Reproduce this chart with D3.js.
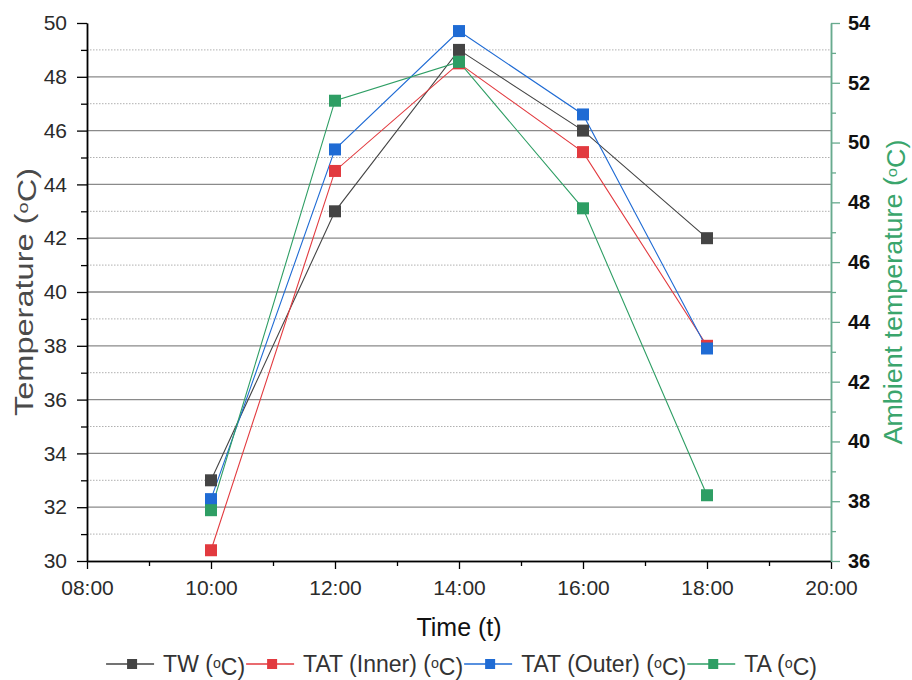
<!DOCTYPE html>
<html>
<head>
<meta charset="utf-8">
<script src="https://cdn.jsdelivr.net/npm/d3@7"></script>
<style>
  body { margin: 0; background: #fff; }
  text { font-family: "Liberation Sans", Arial, sans-serif; }
</style>
</head>
<body>
<div id="chart"></div>
<script>
// data
const times = ["10:00", "12:00", "14:00", "16:00", "18:00"];
const tw = [33.0, 43.0, 49.0, 46.0, 42.0];
const tatInner = [30.4, 44.5, 48.5, 45.2, 38.0];
const tatOuter = [32.3, 45.3, 49.7, 46.6, 37.9];
const ta = [37.7, 51.4, 52.7, 47.8, 38.2];   // right axis
const xTickLabels = ["08:00", "10:00", "12:00", "14:00", "16:00", "18:00", "20:00"];
const leftTicks = [30, 32, 34, 36, 38, 40, 42, 44, 46, 48, 50];
const rightTicks = [36, 38, 40, 42, 44, 46, 48, 50, 52, 54];

function main() {
    const margin = {top: 23, right: 81, bottom: 119, left: 87},
        width = 912 - margin.left - margin.right,
        height = 680 - margin.top - margin.bottom;

    const svg = d3.select("#chart")
        .append("svg")
        .attr("width", 912)
        .attr("height", 680)
        .style("background", "#fff");

    const g = svg.append("g")
        .attr("transform", `translate(${margin.left}, ${margin.top})`);

    const hour = t => +t.split(":")[0];

    const x = d3.scaleLinear().domain([8, 20]).range([0, width]);
    const yL = d3.scaleLinear().domain([30, 50]).range([height, 0]);
    const yR = d3.scaleLinear().domain([36, 54]).range([height, 0]);

    const minorLeft = d3.range(31, 50, 2);

    // grid lines
    g.append("g").selectAll("line.major")
        .data(leftTicks.filter(d => d > 30 && d < 50))
        .enter().append("line")
        .attr("x1", 0).attr("x2", width)
        .attr("y1", d => yL(d)).attr("y2", d => yL(d))
        .attr("stroke", "#8a8a8a").attr("stroke-width", 1.3);
    g.append("g").selectAll("line.minor")
        .data(minorLeft)
        .enter().append("line")
        .attr("x1", 0).attr("x2", width)
        .attr("y1", d => yL(d)).attr("y2", d => yL(d))
        .attr("stroke", "#b0b0b0").attr("stroke-width", 1)
        .attr("stroke-dasharray", "1.5,1.5");

    // axes
    const xAxis = g.append("g")
        .attr("transform", `translate(0, ${height})`)
        .call(d3.axisBottom(x)
            .tickValues(xTickLabels.map(hour))
            .tickFormat(d => d3.format("02")(d) + ":00")
            .tickSize(8).tickSizeOuter(0).tickPadding(11));
    g.append("g")
        .attr("transform", `translate(0, ${height})`)
        .call(d3.axisBottom(x).tickValues(d3.range(9, 20, 2)).tickFormat("")
            .tickSize(5).tickSizeOuter(0));

    const leftAxis = g.append("g")
        .call(d3.axisLeft(yL).tickValues(leftTicks).tickSize(10).tickSizeOuter(0).tickPadding(10));
    g.append("g")
        .call(d3.axisLeft(yL).tickValues(minorLeft).tickFormat("").tickSize(6).tickSizeOuter(0));

    const rightG = g.append("g").attr("transform", `translate(${width}, 0)`);
    const rightAxis = rightG.append("g")
        .call(d3.axisRight(yR).tickValues(rightTicks).tickSize(9).tickSizeOuter(0).tickPadding(8));
    rightG.append("g")
        .call(d3.axisRight(yR).tickValues(d3.range(37, 54, 2)).tickFormat("").tickSize(5).tickSizeOuter(0));

    g.selectAll(".domain").attr("stroke-width", 1.5);
    g.selectAll(".tick line").attr("stroke-width", 1.3);
    [xAxis, leftAxis].forEach(a => a.selectAll("text")
        .attr("fill", "#2b2b2b").style("font-size", "21px"));
    xAxis.selectAll(".domain").attr("stroke", "#333");
    leftAxis.selectAll(".domain").attr("stroke", "#333");
    rightAxis.selectAll("text")
        .attr("fill", "#111").style("font-size", "20px").style("font-weight", "bold");
    rightG.selectAll(".domain, .tick line").attr("stroke", "#68aa8e");

    // series
    const series = [
        {name: "TW", values: tw, color: "#444444", y: yL},
        {name: "TAT (Inner)", values: tatInner, color: "#e23a3f", y: yL},
        {name: "TAT (Outer)", values: tatOuter, color: "#1f6bd4", y: yL},
        {name: "TA", values: ta, color: "#2e9e64", y: yR}
    ];

    series.forEach(s => {
        const line = d3.line()
            .x((d, i) => x(hour(times[i])))
            .y(d => s.y(d));
        g.append("path")
            .datum(s.values)
            .attr("fill", "none")
            .attr("stroke", s.color)
            .attr("stroke-width", 1.1)
            .attr("d", line);
    });
    series.forEach(s => {
        g.append("g").selectAll("rect")
            .data(s.values)
            .enter().append("rect")
            .attr("x", (d, i) => x(hour(times[i])) - 6)
            .attr("y", d => s.y(d) - 6)
            .attr("width", 12).attr("height", 12)
            .attr("fill", s.color);
    });

    // label with small raised "o"
    function degLabel(sel, pre, post) {
        sel.append("tspan").text(pre + "(");
        sel.append("tspan").text("o").style("font-size", "0.62em").attr("dy", "-0.3em");
        sel.append("tspan").text("C)" + (post || "")).attr("dy", "0.3em");
        return sel;
    }

    // axis titles
    degLabel(svg.append("text")
        .attr("transform", `translate(33, ${margin.top + height / 2}) rotate(-90)`)
        .attr("text-anchor", "middle")
        .attr("fill", "#4a4a4a")
        .attr("textLength", 248)
        .attr("lengthAdjust", "spacingAndGlyphs")
        .style("font-size", "25px"), "Temperature ");

    degLabel(svg.append("text")
        .attr("transform", `translate(902, ${margin.top + height / 2}) rotate(-90)`)
        .attr("text-anchor", "middle")
        .attr("fill", "#3aa56c")
        .attr("textLength", 305)
        .attr("lengthAdjust", "spacingAndGlyphs")
        .style("font-size", "25px"), "Ambient temperature ");

    svg.append("text")
        .attr("x", margin.left + width / 2)
        .attr("y", 636)
        .attr("text-anchor", "middle")
        .attr("fill", "#111")
        .style("font-size", "25px")
        .text("Time (t)");

    // legend
    const legend = svg.append("g");
    let cx = 0;
    series.forEach(s => {
        const sq = cx + 26;
        legend.append("line")
            .attr("x1", sq - 26).attr("x2", sq + 22)
            .attr("y1", 664).attr("y2", 664)
            .attr("stroke", s.color).attr("stroke-width", 1.3);
        legend.append("rect")
            .attr("x", sq - 5).attr("y", 659)
            .attr("width", 10).attr("height", 10)
            .attr("fill", s.color);
        const t = degLabel(legend.append("text")
            .attr("x", sq + 31).attr("y", 672)
            .attr("fill", "#333")
            .style("font-size", "23px"), s.name + " ");
        cx = sq + 31 + t.node().getComputedTextLength() + 1;
    });
    legend.attr("transform", `translate(${462 - cx / 2}, 0)`);
}

main();
</script>
</body>
</html>
